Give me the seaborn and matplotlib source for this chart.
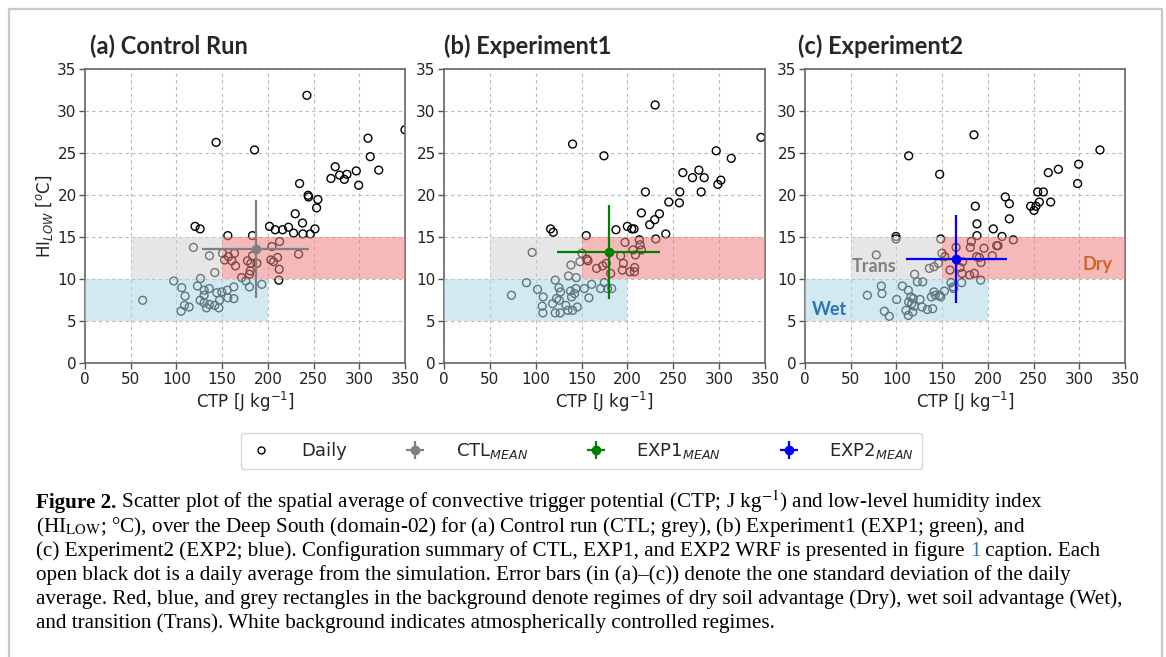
import numpy as np
import pandas as pd
import matplotlib
matplotlib.use("Agg")
import matplotlib.pyplot as plt
import seaborn as sns
from matplotlib.patches import Rectangle
from matplotlib.lines import Line2D

# ---------------- data ----------------
panel_titles = ["(a) Control Run", "(b) Experiment1", "(c) Experiment2"]
legend_labels = ["Daily", r"CTL$_{MEAN}$", r"EXP1$_{MEAN}$", r"EXP2$_{MEAN}$"]
xticks = [0, 50, 100, 150, 200, 250, 300, 350]
yticks = [0, 5, 10, 15, 20, 25, 30, 35]

ctl_ctp = [242.7, 143.4, 185.4, 309.5, 312.0, 273.7, 269.0, 278.5, 283.6, 286.5,
           296.7, 299.3, 234.7, 244.5, 244.0, 254.7, 253.3, 229.9, 237.9, 201.8,
           208.0, 216.1, 222.6, 228.1, 238.3, 246.4, 251.5, 120.4, 125.9, 156.2,
           183.2, 118.6, 136.1, 150.4, 152.6, 156.9, 163.5, 160.6, 164.6, 177.7,
           181.4, 183.2, 188.0, 180.7, 179.9, 171.2, 175.9, 179.9, 193.4, 204.4,
           212.8, 203.3, 206.2, 210.6, 212.4, 212.0, 233.6, 142.0, 126.3, 97.1,
           105.8, 109.5, 108.8, 105.1, 113.9, 123.0, 130.3, 135.8, 130.3, 125.9,
           130.3, 132.8, 136.1, 142.0, 146.4, 144.2, 147.1, 149.6, 155.5, 156.2,
           162.8, 162.8, 63.1, 321.3, 350.0]
ctl_hi = [31.9, 26.3, 25.4, 26.8, 24.6, 23.4, 22.0, 22.4, 21.9, 22.5,
          22.9, 21.2, 21.4, 19.8, 20.0, 19.5, 18.5, 17.8, 16.7, 16.3,
          15.9, 15.9, 16.2, 15.5, 15.4, 15.4, 16.0, 16.3, 16.0, 15.2,
          15.2, 13.8, 12.8, 13.1, 12.3, 12.7, 13.1, 12.2, 11.6, 12.2,
          11.9, 12.8, 11.9, 11.0, 10.6, 10.2, 9.8, 9.1, 9.4, 13.9,
          14.5, 12.3, 12.1, 12.6, 11.2, 9.9, 13.0, 10.8, 10.1, 9.8,
          9.0, 8.0, 6.9, 6.2, 6.7, 9.2, 8.7, 8.9, 8.1, 7.5,
          7.2, 6.6, 7.0, 6.9, 6.6, 8.4, 7.5, 8.5, 8.7, 7.8,
          7.7, 9.1, 7.5, 23.0, 27.8]

exp1_ctp = [230.2, 140.2, 174.4, 345.6, 296.8, 313.2, 260.4, 270.9, 277.9, 283.7,
            301.9, 298.6, 280.4, 257.1, 219.6, 256.7, 245.1, 234.9, 229.8, 224.3,
            215.2, 241.8, 199.9, 204.7, 207.2, 187.5, 116.2, 119.1, 155.1, 96.1,
            150.4, 148.2, 138.4, 155.8, 157.0, 166.4, 173.0, 177.0, 181.7, 197.4,
            213.0, 213.8, 215.2, 206.1, 208.7, 192.6, 195.6, 194.5, 202.8, 207.9,
            207.6, 230.9, 135.8, 144.2, 89.9, 121.3, 102.0, 73.6, 108.2, 107.1,
            107.8, 121.3, 126.7, 118.4, 122.7, 125.3, 127.1, 125.6, 132.9, 135.1,
            140.2, 145.3, 139.1, 142.4, 143.8, 152.9, 158.0, 161.0, 170.8, 174.8,
            178.4, 182.8, 138.0]
exp1_hi = [30.75, 26.1, 24.7, 26.9, 25.3, 24.4, 22.7, 22.1, 23.0, 22.1,
           21.8, 21.3, 20.4, 20.4, 20.4, 19.1, 19.2, 17.8, 17.1, 16.5,
           17.9, 15.4, 16.3, 16.0, 16.0, 15.9, 16.0, 15.6, 15.2, 13.2,
           13.1, 12.1, 11.7, 12.4, 12.2, 11.3, 11.6, 11.9, 10.7, 14.4,
           14.7, 14.1, 13.5, 13.5, 12.9, 12.8, 11.9, 11.1, 10.9, 11.4,
           10.9, 14.8, 10.4, 10.2, 9.6, 9.9, 8.8, 8.1, 7.9, 6.8,
           6.0, 6.0, 6.0, 7.1, 7.7, 9.0, 8.5, 7.5, 6.9, 6.3,
           6.3, 6.7, 7.9, 8.3, 8.9, 8.9, 7.8, 9.4, 8.9, 9.6,
           8.9, 8.9, 8.6]

exp2_ctp = [184.8, 113.4, 147.3, 322.6, 299.3, 298.2, 277.1, 266.1, 254.5, 260.7,
            256.3, 246.8, 250.5, 268.7, 252.6, 219.1, 223.5, 223.5, 186.3, 188.1,
            206.0, 215.5, 188.1, 227.9, 99.5, 99.5, 148.4, 78.0, 181.9, 165.2,
            180.8, 195.8, 209.6, 211.1, 204.9, 187.8, 190.7, 192.5, 149.8, 152.8,
            145.8, 141.1, 136.0, 158.6, 169.5, 172.4, 171.7, 180.1, 185.2, 192.1,
            171.3, 159.7, 161.9, 162.6, 119.9, 122.9, 128.7, 106.5, 83.5, 84.2,
            68.2, 86.8, 92.2, 100.3, 113.0, 115.9, 113.4, 118.4, 116.7, 119.6,
            110.5, 113.0, 117.8, 125.8, 128.0, 133.8, 139.6, 138.2, 141.1, 142.5,
            148.4, 152.4, 147.3]
exp2_hi = [27.2, 24.7, 22.5, 25.4, 23.7, 21.4, 23.1, 22.7, 20.4, 20.4,
           19.2, 18.7, 18.2, 19.2, 18.7, 19.8, 19.0, 17.2, 18.7, 16.6,
           16.0, 15.1, 15.2, 14.7, 15.1, 14.8, 14.8, 12.9, 14.5, 13.8,
           13.8, 13.7, 14.0, 14.0, 12.8, 12.7, 12.6, 12.0, 13.1, 12.7,
           11.9, 11.5, 11.3, 11.1, 11.4, 12.1, 10.7, 10.5, 10.7, 9.9,
           9.6, 9.6, 9.1, 8.9, 10.6, 9.7, 9.7, 9.2, 9.2, 8.3,
           8.1, 6.2, 5.6, 7.6, 8.7, 7.9, 7.3, 7.7, 7.1, 6.8,
           6.3, 5.7, 6.1, 7.6, 6.7, 6.4, 6.5, 7.9, 8.5, 8.1,
           7.9, 8.6, 8.1]

# means and standard deviations (CTP, HI)
ctl_mean = [186.7, 13.6]
ctl_sd = [58.5, 5.8]
exp1_mean = [179.5, 13.2]
exp1_sd = [56.5, 5.6]
exp2_mean = [165.2, 12.4]
exp2_sd = [55.2, 5.2]

# regime rectangles: (x0, x1, y0, y1)
trans_box = [50, 150, 10, 15]
dry_box = [150, 350, 10, 15]
wet_box = [0, 200, 5, 10]

# ---------------- figure ----------------
sns.set_style("white")
plt.rcParams["font.family"] = ["DejaVu Sans"]

W, H = 1166, 657
fig = plt.figure(figsize=(W / 100, H / 100), dpi=100)


def fx(px):
    return px / W


def fy(py):
    return 1 - py / H


# frame around the whole figure
bg = fig.add_axes([0, 0, 1, 1])
bg.set_xlim(0, W)
bg.set_ylim(H, 0)
bg.axis("off")
bg.plot([9, 9, 1162, 1162], [H + 5, 8.5, 8.5, H + 5], color="#c8c8c8", lw=1.6, clip_on=False)

axes_px = [(85, 405), (444, 765), (805, 1125)]
ytop, ybot = 69.3, 363.3

datasets = [(ctl_ctp, ctl_hi, ctl_mean, ctl_sd, "#808080"),
            (exp1_ctp, exp1_hi, exp1_mean, exp1_sd, "#008000"),
            (exp2_ctp, exp2_hi, exp2_mean, exp2_sd, "#0000ff")]

err_handles = []
axes = []
for i, ((x0, x1), (xs, ys, mean, sd, col)) in enumerate(zip(axes_px, datasets)):
    ax = fig.add_axes([fx(x0), fy(ybot), (x1 - x0) / W, (ybot - ytop) / H])
    axes.append(ax)
    df = pd.DataFrame({"CTP": xs, "HI": ys})
    sns.scatterplot(data=df, x="CTP", y="HI", ax=ax, marker="o", s=32,
                    facecolors="none", edgecolor="black", linewidth=1.0, zorder=2)
    for coll in ax.collections:
        coll.set_facecolor("none")
        coll.set_edgecolor("black")
    for box, c in [(trans_box, "lightgrey"), (dry_box, "lightcoral"), (wet_box, "lightblue")]:
        ax.add_patch(Rectangle((box[0], box[2]), box[1] - box[0], box[3] - box[2],
                               facecolor=c, alpha=0.55, lw=0, zorder=3))
    eb = ax.errorbar(mean[0], mean[1], xerr=sd[0], yerr=sd[1], color=col, marker="o",
                     ms=6, elinewidth=1.6, capsize=0, zorder=5, ls="none")
    err_handles.append(eb)
    ax.set_xlim(0, 350)
    ax.set_ylim(0, 35)
    ax.set_xticks(xticks)
    ax.set_yticks(yticks)
    ax.grid(True, color="#b8b8b8", lw=0.8, ls=(0, (3, 3)), zorder=1)
    ax.set_axisbelow(True)
    ax.tick_params(direction="out", length=4, width=1, color="#555555",
                   labelsize=11, labelcolor="#222222", pad=2, left=True, bottom=True)
    for sp in ax.spines.values():
        sp.set_color("#666666")
        sp.set_linewidth(1.2)
    ax.set_xlabel(r"CTP [J kg$^{-1}$]", fontsize=12, labelpad=2, color="#222222")
    if i == 0:
        ax.set_ylabel(r"HI$_{LOW}$ [$^o$C]", fontsize=12, labelpad=2, color="#222222")
    else:
        ax.set_ylabel("")
    fig.text(fx(x0 + [5, 0, -7][i]), fy(46), panel_titles[i], fontsize=17,
             family=["Lato", "DejaVu Sans"], fontweight="bold", va="center", ha="left")

# regime labels in panel (c)
axc = axes[2]
axc.text(51, 11.5, "Trans", color="#808080", fontsize=13, fontweight="bold",
         family=["Lato", "DejaVu Sans"], va="center", ha="left", zorder=6)
axc.text(7, 6.35, "Wet", color="#2a74b8", fontsize=13, fontweight="bold",
         family=["Lato", "DejaVu Sans"], va="center", ha="left", zorder=6)
axc.text(304, 11.8, "Dry", color="#cc6424", fontsize=13, fontweight="bold",
         family=["Lato", "DejaVu Sans"], va="center", ha="left", zorder=6)

# legend
daily_handle = Line2D([], [], marker="o", ls="none", mfc="none", mec="black", ms=5, mew=1)
leg = fig.legend([daily_handle] + err_handles, legend_labels, loc="center",
                 bbox_to_anchor=(fx(581.5), fy(451)), ncol=4, fontsize=13,
                 frameon=True, fancybox=True, edgecolor="#cccccc",
                 handlelength=1.3, handletextpad=1.6, columnspacing=3.1,
                 borderpad=0.45)

# caption
cap_lines = [
    [("Figure 2.", "bold", "black"),
     (" Scatter plot of the spatial average of convective trigger potential (CTP; J kg$^{-1}$) and low-level humidity index", "normal", "black")],
    [("(HI$_{\\mathrm{LOW}}$; \u00b0C), over the Deep South (domain-02) for (a) Control run (CTL; grey), (b) Experiment1 (EXP1; green), and", "normal", "black")],
    [("(c) Experiment2 (EXP2; blue). Configuration summary of CTL, EXP1, and EXP2 WRF is presented in figure ", "normal", "black"),
     ("1", "normal", "#2a7ab8"),
     (" caption. Each", "normal", "black")],
    [("open black dot is a daily average from the simulation. Error bars (in (a)\u2013(c)) denote the one standard deviation of the daily", "normal", "black")],
    [("average. Red, blue, and grey rectangles in the background denote regimes of dry soil advantage (Dry), wet soil advantage (Wet),", "normal", "black")],
    [("and transition (Trans). White background indicates atmospherically controlled regimes.", "normal", "black")],
]
renderer = fig.canvas.get_renderer()
for k, line in enumerate(cap_lines):
    xpos = 36
    ypos = 508 + 24 * k
    for txt, wgt, col in line:
        t = bg.text(xpos, ypos, txt, fontsize=15.2, fontweight=wgt, color=col,
                    family=["Liberation Serif", "DejaVu Serif"], math_fontfamily="stix",
                    va="baseline", ha="left")
        bb = t.get_window_extent(renderer)
        xpos += bb.width

fig.savefig("out.png", dpi=100)
